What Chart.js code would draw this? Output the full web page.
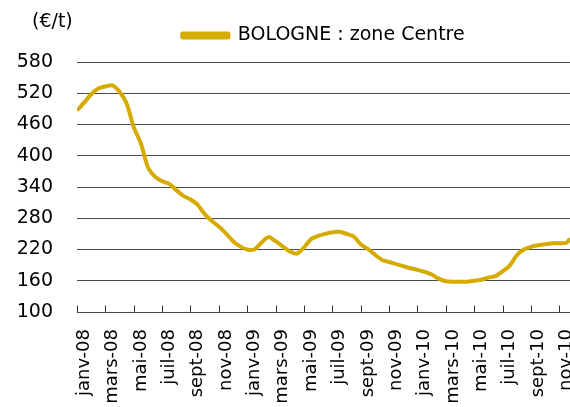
<!DOCTYPE html>
<html>
<head>
<meta charset="utf-8">
<script src="https://cdn.jsdelivr.net/npm/chart.js@4/dist/chart.umd.min.js"></script>
<style>
  html, body { margin: 0; padding: 0; background: #fff; }
  #wrap { width: 570px; height: 407px; position: relative; }
</style>
</head>
<body>
<div id="wrap"><canvas id="c" width="570" height="407"></canvas></div>
<script>
// ---- data ----
const seriesName = 'BOLOGNE : zone Centre';
const unitLabel = '(€/t)';
const tickLabels = ['janv-08','mars-08','mai-08','juil-08','sept-08','nov-08',
                    'janv-09','mars-09','mai-09','juil-09','sept-09','nov-09',
                    'janv-10','mars-10','mai-10','juil-10','sept-10','nov-10'];
// time in months since 1 Jan 2008 (half-month steps)
const monthIndex = [0,0.5,1,1.5,2,2.5,3,3.5,4,4.5,5,5.5,6,6.5,7,7.5,8,8.5,9,9.5,
                    10,10.5,11,11.5,12,12.5,13,13.5,14,14.5,15,15.5,16,16.5,17,17.5,18,18.5,19,19.5,
                    20,20.5,21,21.5,22,22.5,23,23.5,24,24.5,25,25.5,26,26.5,27,27.5,28,28.5,29,29.5,
                    30,30.5,31,31.5,32,32.5,33,33.5,34,34.5,34.75];
const prices = [487,502,518,529,533,535,523,500,455,424,
                378,360,351,346,334,323,316,306,288,275,
                264,251,236,226,220,220,233,244,236,226,
                216,212,224,240,246,250,253,254,250,245,
                230,221,210,200,196,192,188,184,181,177,
                172,164,159,158,158,158,160,162,166,169,
                178,189,209,220,225,228,230,232,232,233,241];
const yTicks = [100,160,220,280,340,400,460,520,580];

const gold = '#D6AB00';
const axisFont = '"DejaVu Sans", sans-serif';

const points = monthIndex.map((m, i) => ({x: m, y: prices[i]}));

const extras = {
  id: 'extras',
  beforeInit(chart) {
    const origFit = chart.legend.fit;
    chart.legend.fit = function () {
      origFit.call(this);
      this.height += 7;
    };
  },
  afterDraw(chart) {
    const {ctx, scales: {x, y}} = chart;
    ctx.save();
    ctx.strokeStyle = '#333';
    ctx.lineWidth = 1;
    const yb = Math.round(y.getPixelForValue(y.min)) + 0.5;
    tickLabels.forEach((_, i) => {
      const px = Math.round(x.getPixelForValue(i * 2)) + 0.5;
      ctx.beginPath();
      ctx.moveTo(px, yb);
      ctx.lineTo(px, yb - 7);
      ctx.stroke();
    });
    ctx.fillStyle = '#000';
    ctx.font = '19px ' + axisFont;
    ctx.textBaseline = 'middle';
    ctx.textAlign = 'left';
    ctx.fillText(unitLabel, 32, 22);
    ctx.restore();
  }
};

new Chart(document.getElementById('c'), {
  type: 'line',
  data: {
    datasets: [{
      label: seriesName,
      data: points,
      borderColor: gold,
      backgroundColor: gold,
      borderWidth: 4,
      pointRadius: 0,
      tension: 0.25,
      fill: false,
      borderJoinStyle: 'round'
    }]
  },
  options: {
    responsive: false,
    animation: false,
    layout: { padding: { top: 0, left: 0, right: 0, bottom: 0 } },
    plugins: {
      tooltip: { enabled: false },
      legend: {
        position: 'top',
        fullSize: false,
        labels: {
          boxWidth: 46,
          boxHeight: 4,
          padding: 26,
          color: '#000',
          font: { family: axisFont, size: 19 }
        }
      }
    },
    scales: {
      x: {
        type: 'linear',
        min: 0,
        max: 34.75,
        grid: { display: false, drawTicks: false },
        border: { display: false },
        afterBuildTicks(scale) {
          scale.ticks = tickLabels.map((_, i) => ({ value: i * 2 + 0.5 }));
        },
        afterFit(scale) {
          scale.height = 95;
          scale.paddingLeft = 0;
          scale.paddingRight = 0;
        },
        ticks: {
          autoSkip: false,
          maxRotation: 90,
          minRotation: 90,
          padding: 17,
          color: '#000',
          font: { family: axisFont, size: 18 },
          callback(value, index) { return tickLabels[index]; }
        }
      },
      y: {
        min: 100,
        max: 580,
        grid: { color: '#4a4a4a', lineWidth: 1, drawTicks: false },
        border: { display: false },
        afterBuildTicks(scale) {
          scale.ticks = yTicks.map(v => ({ value: v }));
        },
        afterFit(scale) {
          scale.width = 77;
          scale.paddingTop = 0;
          scale.paddingBottom = 0;
        },
        ticks: {
          padding: 24,
          color: '#000',
          font: { family: axisFont, size: 19 }
        }
      }
    }
  },
  plugins: [extras]
});
</script>
</body>
</html>
